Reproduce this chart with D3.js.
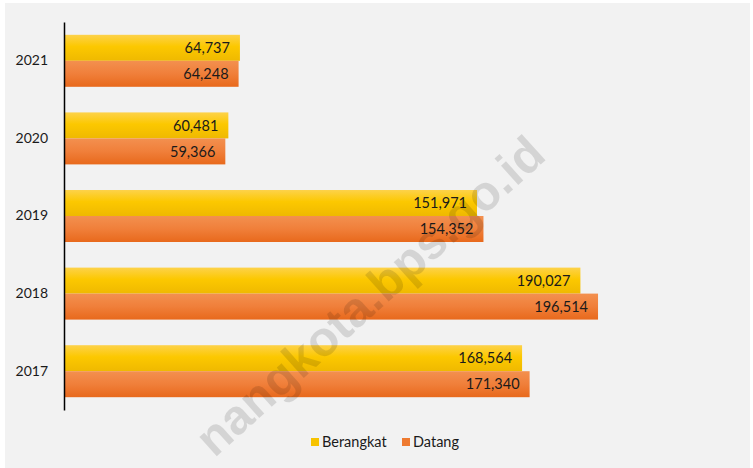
<!DOCTYPE html>
<html>
<head>
<meta charset="utf-8">
<script src="https://cdn.jsdelivr.net/npm/d3@7"></script>
<style>
  body { margin: 0; background: #fff; }
  text { font-family: Lato, "Open Sans", sans-serif; }
</style>
</head>
<body>
<div id="chart"></div>
<script>
// Data
var years = ["2017", "2018", "2019", "2020", "2021"];
var berangkat = [168564, 190027, 151971, 60481, 64737];
var datang = [171340, 196514, 154352, 59366, 64248];
var seriesNames = ["Berangkat", "Datang"];

var svgWidth = 753;
var svgHeight = 468;

var svg = d3.select("#chart")
  .append("svg")
  .attr("width", svgWidth)
  .attr("height", svgHeight);

// gradients
var defs = svg.append("defs");
var gradY = defs.append("linearGradient").attr("id", "gY")
  .attr("x1", 0).attr("y1", 0).attr("x2", 0).attr("y2", 1);
gradY.append("stop").attr("offset", "0%").attr("stop-color", "#fdd24a");
gradY.append("stop").attr("offset", "45%").attr("stop-color", "#fcc800");
gradY.append("stop").attr("offset", "100%").attr("stop-color", "#efb900");
var gradO = defs.append("linearGradient").attr("id", "gO")
  .attr("x1", 0).attr("y1", 0).attr("x2", 0).attr("y2", 1);
gradO.append("stop").attr("offset", "0%").attr("stop-color", "#f3904f");
gradO.append("stop").attr("offset", "50%").attr("stop-color", "#f07f3a");
gradO.append("stop").attr("offset", "100%").attr("stop-color", "#e8691c");

// panel background
svg.append("rect")
  .attr("x", 5).attr("y", 3)
  .attr("width", 745).attr("height", 465)
  .attr("fill", "#f2f2f2");

// scales
var x = d3.scaleLinear()
  .domain([0, 200000])
  .range([64, 607.5]);

var y = d3.scaleBand()
  .domain(years.slice().reverse())
  .range([22, 410])
  .paddingInner(0.33)
  .paddingOuter(0.165);

var sub = d3.scaleBand()
  .domain(seriesNames)
  .range([0, y.bandwidth()]);

var rows = years.map(function(yr, i) {
  return { year: yr, values: [berangkat[i], datang[i]] };
});

var fills = ["url(#gY)", "url(#gO)"];

var groups = svg.selectAll("g.year")
  .data(rows)
  .enter()
  .append("g")
  .attr("class", "year")
  .attr("transform", d => `translate(0, ${y(d.year)})`);

seriesNames.forEach(function(name, s) {
  groups.append("rect")
    .attr("x", x(0))
    .attr("y", sub(name))
    .attr("width", d => x(d.values[s]) - x(0))
    .attr("height", sub.bandwidth())
    .attr("fill", fills[s]);

  groups.append("text")
    .attr("x", d => x(d.values[s]) - 10)
    .attr("y", sub(name) + sub.bandwidth() / 2)
    .attr("dy", "0.36em")
    .attr("text-anchor", "end")
    .style("font-size", "14.5px")
    .attr("fill", "#1a1a1a")
    .text(d => d3.format(",")(d.values[s]));
});

// y axis
var leftAxis = d3.axisLeft(y).tickSize(0).tickPadding(16);
var yAxis = svg.append("g")
  .attr("transform", `translate(${x(0)}, 0)`)
  .call(leftAxis);
yAxis.select(".domain").attr("stroke", "#000").attr("stroke-width", 1.5);
yAxis.selectAll("text")
  .style("font-size", "14px")
  .style("font-family", "Lato, 'Open Sans', sans-serif")
  .attr("fill", "#1a1a1a");

// watermark
svg.append("text")
  .attr("transform", "translate(548, 158) rotate(-42)")
  .attr("text-anchor", "end")
  .style("font-family", "'Liberation Sans', Arial, sans-serif")
  .style("font-weight", "bold")
  .style("font-size", "49px")
  .attr("fill", "#000")
  .attr("fill-opacity", 0.12)
  .text("nangkota.bps.go.id");

// legend
var legendColors = ["#f7c300", "#ee7a30"];
var legendX = [311, 402];
var legend = svg.selectAll("g.legend")
  .data(seriesNames)
  .enter()
  .append("g")
  .attr("class", "legend")
  .attr("transform", (d, i) => `translate(${legendX[i]}, 442)`);
legend.append("rect")
  .attr("x", 0).attr("y", -4)
  .attr("width", 8).attr("height", 8)
  .attr("fill", (d, i) => legendColors[i]);
legend.append("text")
  .attr("x", 11)
  .attr("dy", "0.36em")
  .style("font-size", "14.5px")
  .attr("fill", "#1a1a1a")
  .text(d => d);
</script>
</body>
</html>
